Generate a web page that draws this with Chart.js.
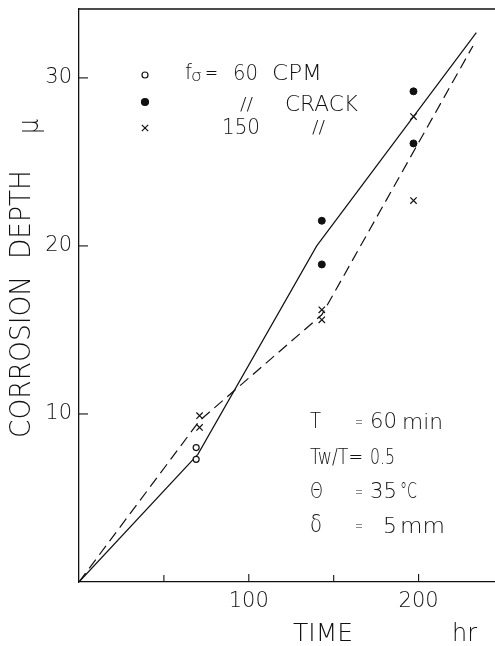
<!DOCTYPE html>
<html>
<head>
<meta charset="utf-8">
<script src="https://cdn.jsdelivr.net/npm/chart.js@4/dist/chart.umd.min.js"></script>
<style>
  body { margin: 0; background: #fff; }
  canvas { display: block; }
</style>
</head>
<body>
<canvas id="corrosionChart" width="495" height="646"></canvas>
<script>
// measured points, time in hr, depth in micron
const openTime = [69, 69];
const openDepth = [8.0, 7.3];
const crackTime = [143, 143, 197, 197];
const crackDepth = [21.5, 18.9, 29.2, 26.1];
const crossTime = [71, 71, 143, 143, 197, 197];
const crossDepth = [9.9, 9.2, 16.2, 15.6, 27.7, 22.7];

// fitted lines
const solidTime = [0, 70, 140, 234];
const solidDepth = [0, 7.6, 20, 32.7];
const dashedTime = [0, 71, 143, 232];
const dashedDepth = [0, 9.6, 15.9, 31.9];

const xLabels = [100, 200];
const yLabels = [10, 20, 30];
const xTickMarks = [50, 100, 150, 200];

const ink = '#111';
const fontFamily = '"DejaVu Sans", sans-serif';

function toPoints(xs, ys) {
  return xs.map((x, i) => ({ x: x, y: ys[i] }));
}

// draw text squeezed/stretched to a given width, left edge at x
function fitText(ctx, text, x, y, width, size) {
  ctx.save();
  ctx.font = '200 ' + size + 'px ' + fontFamily;
  ctx.textBaseline = 'middle';
  ctx.textAlign = 'left';
  const w = ctx.measureText(text).width;
  ctx.translate(x, y);
  ctx.scale(width / w, 1);
  ctx.fillText(text, 0, 0);
  ctx.restore();
}

const decorations = {
  id: 'decorations',
  afterDraw(chart) {
    const ctx = chart.ctx;
    const area = chart.chartArea;
    const xs = chart.scales.x;
    const ys = chart.scales.y;
    ctx.save();
    ctx.strokeStyle = ink;
    ctx.fillStyle = ink;
    ctx.lineWidth = 1.3;

    // top frame line
    ctx.beginPath();
    ctx.moveTo(area.left, area.top);
    ctx.lineTo(area.right, area.top);
    ctx.stroke();

    // inward tick marks
    ctx.lineWidth = 1.1;
    xTickMarks.forEach(v => {
      const px = xs.getPixelForValue(v);
      const len = xLabels.includes(v) ? 8 : 7;
      ctx.beginPath();
      ctx.moveTo(px, area.bottom);
      ctx.lineTo(px, area.bottom - len);
      ctx.stroke();
    });
    yLabels.forEach(v => {
      const py = ys.getPixelForValue(v);
      ctx.beginPath();
      ctx.moveTo(area.left, py);
      ctx.lineTo(area.left + 9, py);
      ctx.stroke();
    });

    // legend markers
    const Pt = Chart.helpers.drawPoint;
    ctx.lineWidth = 1.2;
    ctx.fillStyle = '#fff';
    Pt(ctx, { pointStyle: 'circle', radius: 3, borderWidth: 1.2 }, 145, 75);
    ctx.fillStyle = ink;
    Pt(ctx, { pointStyle: 'circle', radius: 3.5, borderWidth: 1 }, 145, 102);
    Pt(ctx, { pointStyle: 'crossRot', radius: 4.5, borderWidth: 1.2 }, 145, 128);

    // legend texts
    fitText(ctx, 'f', 185, 73, 7, 22);
    fitText(ctx, '\u03c3', 191, 77, 11, 16);
    fitText(ctx, '=', 205, 74, 13, 22);
    fitText(ctx, '60', 233, 74, 25, 22);
    fitText(ctx, 'CPM', 272, 74, 50, 22);
    fitText(ctx, '//', 240, 105, 13, 18);
    fitText(ctx, 'CRACK', 285, 105, 73, 22);
    fitText(ctx, '150', 222, 128, 38, 22);
    fitText(ctx, '//', 312, 128, 13, 18);

    // test conditions
    fitText(ctx, 'T', 310, 422, 11, 22);
    fitText(ctx, '=', 355, 423, 8, 16);
    fitText(ctx, '60', 370, 422, 27, 22);
    fitText(ctx, 'min', 402, 423, 41, 22);
    fitText(ctx, 'Tw/T=', 310, 458, 53, 22);
    fitText(ctx, '0.5', 370, 458, 25, 22);
    fitText(ctx, '\u0398', 310, 492, 13, 22);
    fitText(ctx, '=', 355, 493, 8, 16);
    fitText(ctx, '35', 370, 492, 27, 22);
    fitText(ctx, '\u00b0C', 400, 492, 17, 22);
    fitText(ctx, '\u03b4', 310, 526, 12, 24);
    fitText(ctx, '=', 355, 527, 8, 16);
    fitText(ctx, '5', 383, 527, 14, 22);
    fitText(ctx, 'mm', 400, 527, 45, 22);

    // axis titles
    fitText(ctx, 'TIME', 293, 635, 60, 24);
    fitText(ctx, 'hr', 452, 635, 25, 24);

    ctx.save();
    ctx.translate(23, 438);
    ctx.rotate(-Math.PI / 2);
    fitText(ctx, 'CORROSION  DEPTH', 0, 0, 268, 28);
    ctx.restore();
    ctx.save();
    ctx.translate(31, 134);
    ctx.rotate(-Math.PI / 2);
    fitText(ctx, '\u03bc', 0, 0, 15, 28);
    ctx.restore();

    ctx.restore();
  }
};

new Chart(document.getElementById('corrosionChart'), {
  type: 'scatter',
  data: {
    datasets: [
      {
        label: 'solid fit',
        data: toPoints(solidTime, solidDepth),
        showLine: true,
        borderColor: ink,
        borderWidth: 1.2,
        pointRadius: 0,
        order: 5
      },
      {
        label: 'dashed fit',
        data: toPoints(dashedTime, dashedDepth),
        showLine: true,
        borderColor: ink,
        borderWidth: 1.2,
        borderDash: [11, 6],
        pointRadius: 0,
        order: 4
      },
      {
        label: 'f = 60 CPM',
        data: toPoints(openTime, openDepth),
        pointStyle: 'circle',
        pointRadius: 3,
        pointBackgroundColor: '#fff',
        pointBorderColor: ink,
        pointBorderWidth: 1.2,
        order: 1
      },
      {
        label: 'crack',
        data: toPoints(crackTime, crackDepth),
        pointStyle: 'circle',
        pointRadius: 3.5,
        pointBackgroundColor: ink,
        pointBorderColor: ink,
        order: 2
      },
      {
        label: 'f = 150 CPM',
        data: toPoints(crossTime, crossDepth),
        pointStyle: 'crossRot',
        pointRadius: 4.5,
        pointBorderColor: ink,
        pointBorderWidth: 1.2,
        order: 3
      }
    ]
  },
  options: {
    responsive: false,
    devicePixelRatio: 1,
    animation: false,
    layout: { autoPadding: false, padding: { top: 9, left: 0, right: 0, bottom: 0 } },
    plugins: {
      legend: { display: false },
      tooltip: { enabled: false }
    },
    scales: {
      x: {
        type: 'linear',
        min: 0,
        max: 245,
        afterFit: s => { s.height = 64; s.paddingLeft = 0; s.paddingRight = 0; },
        grid: { display: true, drawOnChartArea: false, drawTicks: false },
        border: { display: true, color: ink, width: 1.3 },
        ticks: {
          stepSize: 50,
          padding: 7,
          color: ink,
          font: { family: fontFamily, size: 21, weight: '200' },
          callback: v => xLabels.includes(v) ? String(v) : ''
        }
      },
      y: {
        type: 'linear',
        min: 0,
        max: 34.1,
        afterFit: s => { s.width = 79; s.paddingTop = 0; s.paddingBottom = 0; },
        grid: { display: true, drawOnChartArea: false, drawTicks: false },
        border: { display: true, color: ink, width: 1.3 },
        ticks: {
          stepSize: 10,
          padding: 7,
          color: ink,
          font: { family: fontFamily, size: 21, weight: '200' },
          callback: v => yLabels.includes(v) ? String(v) : ''
        }
      }
    }
  },
  plugins: [decorations]
});
</script>
</body>
</html>
